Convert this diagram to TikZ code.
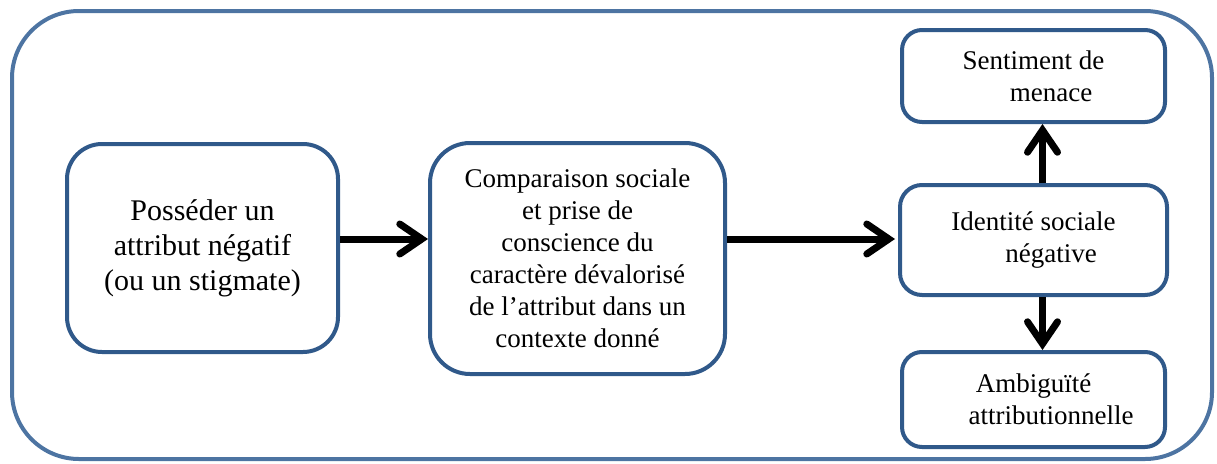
\documentclass[tikz,border=0pt]{standalone}
\usepackage{fontspec}
\setmainfont{Liberation Serif}
\usetikzlibrary{arrows.meta}
\definecolor{outerblue}{HTML}{4D74A2}
\definecolor{boxblue}{HTML}{30598A}
\tikzset{
  stepbox/.style={draw=boxblue, line width=4pt, fill=white, align=center, inner sep=0pt, font=\fontsize{27}{32}\selectfont},
  flowarrow/.style={line width=7pt, draw=black, -{Straight Barb[length=22pt, width=30pt, line cap=round]}},
}
\begin{document}
\begin{tikzpicture}[x=1pt, y=-1pt]
\useasboundingbox (0,0) rectangle (1217,463);
\draw[outerblue, line width=4pt, rounded corners=67pt] (12,11) rectangle (1212,459);

\node[stepbox, rounded corners=35pt, minimum width=271pt, minimum height=208pt, font=\fontsize{30}{35}\selectfont] (b1) at (202.5,248) {\raisebox{-5pt}{\begin{tabular}{@{}c@{}}Posséder un\\attribut négatif\\(ou un stigmate)\end{tabular}}};
\node[stepbox, rounded corners=40pt, minimum width=295pt, minimum height=231pt] (b2) at (577.5,258.5) {Comparaison sociale\\et prise de\\conscience du\\caractère dévalorisé\\de l’attribut dans un\\contexte donné};
\node[stepbox, rounded corners=22pt, minimum width=267pt, minimum height=110pt] (b3) at (1033.5,240) {Identité sociale\\\hspace*{1.3em}négative};
\node[stepbox, rounded corners=20pt, minimum width=263pt, minimum height=92pt] (b4) at (1033.5,76) {Sentiment de\\\hspace*{1.3em}menace};
\node[stepbox, rounded corners=20pt, minimum width=263pt, minimum height=95pt] (b5) at (1033.5,399.5) {Ambiguïté\\\hspace*{1.3em}attributionnelle};

\coordinate (row) at (0,239);
\draw[flowarrow] (b1.east |- row) -- (b2.west |- row);
\draw[flowarrow, shorten >=3pt] (b2.east |- row) -- (b3.west |- row);
\draw[flowarrow] ([xshift=9pt]b3.north) -- ([xshift=9pt]b4.south);
\draw[flowarrow] ([xshift=9pt]b3.south) -- ([xshift=9pt]b5.north);
\end{tikzpicture}
\end{document}
